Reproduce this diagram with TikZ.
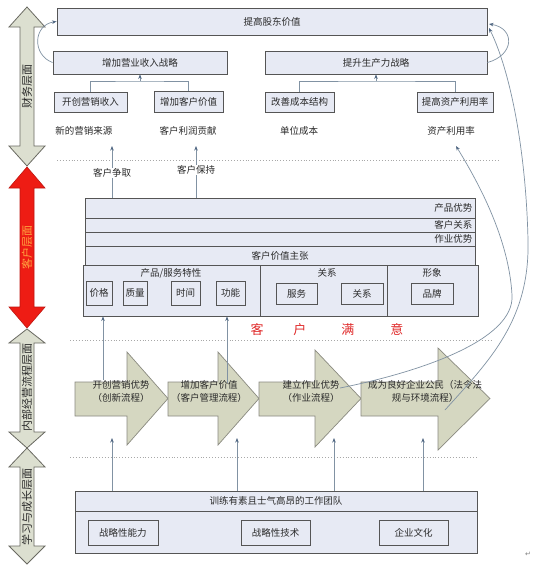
\documentclass[tikz,border=0pt]{standalone}
\usepackage{fontspec}
\newfontfamily\cjk{Noto Sans CJK SC}
\newfontfamily\dejavu{DejaVu Sans}
\usetikzlibrary{arrows.meta}
\definecolor{boxfill}{HTML}{E7EAF4}
\definecolor{boxline}{HTML}{555555}
\definecolor{txt}{HTML}{2A2A2A}
\definecolor{connc}{HTML}{8192A3}
\definecolor{tipc}{HTML}{4F6682}
\definecolor{arrowfill}{HTML}{DCDFD0}
\definecolor{arrowline}{HTML}{6A6A62}
\definecolor{procfill}{HTML}{D5D7C1}
\definecolor{procline}{HTML}{8A8A80}
\definecolor{redarrow}{HTML}{EE1C14}
\definecolor{orangetxt}{HTML}{FFA540}
\definecolor{satred}{HTML}{E02A2A}
\definecolor{dotc}{HTML}{A8A8A8}
\newcommand\bx[6]{\node[box, minimum width={(#4-#2)*1pt}, minimum height={(#5-#3)*1pt}] (#1) at ({(#2+#4)/2},{(#3+#5)/2}) {#6};}
\newcommand\procarr[5]{\draw[procshape] (#1,382) -- (#2,382) -- (#2,#4) -- (#3,398.5) -- (#2,#5) -- (#2,416) -- (#1,416) -- cycle;}
\newcommand\dblarr[5]{\draw[#5] (27,#1) -- (45,#2) -- (34,#2) -- (34,#3) -- (45,#3) -- (27,#4) -- (9,#3) -- (20,#3) -- (20,#2) -- (9,#2) -- cycle;}
\begin{document}
\begin{tikzpicture}[x=1pt,y=-1pt,
  box/.style={draw=boxline, fill=boxfill, line width=0.9pt, inner sep=0pt, font=\cjk\fontsize{9.5}{11}\selectfont, text=txt},
  lbl/.style={inner sep=1pt, font=\cjk\fontsize{9.5}{11}\selectfont, text=txt},
  ptxt/.style={inner sep=0pt, align=center, font=\cjk\fontsize{9.5}{13}\selectfont, text=txt},
  sidetxt/.style={rotate=90, inner sep=0pt, font=\cjk\fontsize{11}{12}\selectfont},
  conn/.style={draw=connc, line width=0.7pt},
  arr/.style={conn, -{Stealth[length=4.5pt,width=3.5pt,color=tipc]}},
  dotsep/.style={draw=dotc, line width=0.9pt, dotted},
  grayarrow/.style={fill=arrowfill, draw=arrowline, line width=0.8pt},
  redarr/.style={fill=redarrow, draw=redarrow!80!black, line width=0.6pt},
  procshape/.style={fill=procfill, draw=procline, line width=0.7pt}]
\fill[white] (0,0) rectangle (536,566);
\useasboundingbox (0,0) rectangle (536,566);

% ---------- left layer arrows ----------
\dblarr{7}{27}{146}{166}{grayarrow}
\dblarr{167}{188}{307}{328}{redarr}
\dblarr{329}{343}{432}{448}{grayarrow}
\dblarr{448}{467}{546}{564}{grayarrow}
\node[sidetxt, text=txt] (la1) at (27,86.5) {财务层面};
\node[sidetxt, text=orangetxt] (la2) at (27,247.5) {客户层面};
\node[sidetxt, text=txt] (la3) at (27,387.5) {内部经营流程层面};
\node[sidetxt, text=txt] (la4) at (27,506.5) {学习与成长层面};

% ---------- finance layer ----------
\bx{top}{57}{8}{487}{35}{提高股东价值}
\bx{zy}{53}{51}{227}{74}{增加营业收入战略}
\bx{sc}{265}{51}{487}{74}{提升生产力战略}
\bx{kc}{54}{92}{127}{112}{开创营销收入}
\bx{zk}{154}{91}{223}{112}{增加客户价值}
\bx{gs}{265}{92}{334}{112}{改善成本结构}
\bx{tz}{417}{92}{493}{112}{提高资产利用率}
\coordinate (j1) at (140,81);
\coordinate (j2) at (376,81);
\draw[conn] (kc.north) |- (j1) -| (zk.north);
\draw[arr] (j1) -- (zy.south);
\draw[conn] (gs.north) |- (j2) -| (tz.north);
\draw[arr] (j2) -- (sc.south);
\node[lbl] (l1) at (84,131) {新的营销来源};
\node[lbl] (l2) at (188,131) {客户利润贡献};
\node[lbl] (l3) at (299,131) {单位成本};
\node[lbl] (l4) at (451,131) {资产利用率};

\draw[dotsep] (57,160) -- (500,160);
\draw[dotsep] (70,340) -- (493,340);
\draw[dotsep] (70,457) -- (478,457);

% ---------- customer layer ----------
\bx{r1}{85}{198}{475}{218}{}
\bx{r2}{85}{218}{475}{232}{}
\bx{r3}{85}{232}{475}{246}{}
\bx{r4}{85}{246}{475}{265}{客户价值主张}
\node[lbl, anchor=east] (r1t) at ([xshift=-2pt]r1.east) {产品优势};
\node[lbl, anchor=east] (r2t) at ([xshift=-2pt]r2.east) {客户关系};
\node[lbl, anchor=east] (r3t) at ([xshift=-2pt]r3.east) {作业优势};
\bx{s1}{83}{265}{260}{316}{}
\bx{s2}{260}{265}{387}{316}{}
\bx{s3}{387}{265}{478}{316}{}
\node[lbl] (s1t) at (171,273) {产品/服务特性};
\node[lbl] (s2t) at (327,273) {关系};
\node[lbl] (s3t) at (432,273) {形象};
\bx{b1}{86}{281}{112}{305}{价格}
\bx{b2}{123}{281}{147}{305}{质量}
\bx{b3}{171}{281}{200}{305}{时间}
\bx{b4}{216}{281}{245}{305}{功能}
\bx{b5}{276}{283}{317}{304}{服务}
\bx{b6}{341}{283}{383}{304}{关系}
\bx{b7}{411}{283}{453}{304}{品牌}

\coordinate (u1) at (112,146);
\coordinate (u2) at (196,146);
\draw[arr] (r1.north -| u1) -- (u1);
\draw[arr] (r1.north -| u2) -- (u2);
\node[lbl, fill=white] (qz) at (112,173) {客户争取};
\node[lbl, fill=white] (bc) at (196,170) {客户保持};

\node[inner sep=0pt, text=satred, font=\cjk\fontsize{13}{14}\selectfont] (my) at (327,330) {客\hspace{30pt}户\hspace{35pt}满\hspace{36pt}意};

% ---------- process layer ----------
\procarr{75}{127}{168}{352}{445}
\procarr{168}{218}{259}{352}{445}
\procarr{259}{315}{361}{350}{447}
\procarr{361}{438}{490}{348}{450}
\node[ptxt] (p1t) at (121,391.5) {开创营销优势\\（创新流程）};
\node[ptxt] (p2t) at (209,391.5) {增加客户价值\\（客户管理流程）};
\node[ptxt] (p3t) at (311,391.5) {建立作业优势\\（作业流程）};
\node[ptxt] (p4t) at (425,391.5) {成为良好企业公民（法令法\\规与环境流程）};

\coordinate (q1) at (103,380);
\coordinate (q2) at (227,383);
\draw[arr] (q1) -- (q1 |- s1.south);
\draw[arr] (q2) -- (q2 |- s1.south);

% ---------- learning layer ----------
\bx{t1}{75}{491}{477}{511}{训练有素且士气高昂的工作团队}
\bx{t2}{75}{511}{477}{553}{}
\bx{c1}{88}{520}{158}{545}{战略性能力}
\bx{c2}{241}{520}{310}{545}{战略性技术}
\bx{c3}{379}{520}{448}{545}{企业文化}
\coordinate (v1) at (112,438);
\coordinate (v2) at (237,438);
\coordinate (v3) at (334,438);
\coordinate (v4) at (423,438);
\foreach \v in {v1,v2,v3,v4} {\draw[arr] (t1.north -| \v) -- (\v);}

% ---------- curved links ----------
\draw[arr] (zy.west) .. controls (32,55) and (33,25) .. (top.west);
\coordinate (te) at (489,24);
\draw[arr] (sc.east) .. controls (515,55) and (515,28) .. (te);
\coordinate (ca) at (340,388);
\coordinate (ce) at (456,146);
\draw[arr] (ca) .. controls (420,372) and (515,340) .. (512,295) .. controls (509,240) and (480,185) .. (ce);
\coordinate (cb) at (445,410);
\coordinate (cf) at (489,28);
\draw[arr] (cb) .. controls (490,360) and (530,320) .. (528,240) .. controls (526,150) and (510,70) .. (cf);

\node[inner sep=0pt, text=gray, font=\dejavu\fontsize{7}{8}\selectfont] (pm) at (528,554) {↵};
\end{tikzpicture}
\end{document}
